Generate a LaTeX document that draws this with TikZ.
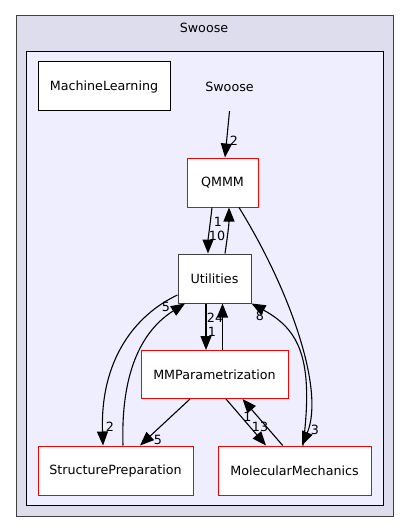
\documentclass[tikz,border=0pt]{standalone}
\usepackage{fontspec}
\setmainfont{DejaVu Sans}
\usetikzlibrary{arrows.meta}
\definecolor{outerfill}{HTML}{DDDDEE}
\definecolor{innerfill}{HTML}{EEEEFF}
\definecolor{outerline}{HTML}{404040}
\definecolor{redline}{HTML}{FF0000}
\begin{document}
\begin{tikzpicture}[x=1pt,y=-1pt,
  every node/.style={font=\fontsize{12.7}{15}\selectfont, inner sep=0pt},
  dirbox/.style={draw=black, fill=white, line width=1pt, rectangle, minimum height=49pt},
  redbox/.style={dirbox, draw=redline},
  dep/.style={line width=1.1pt, -{Triangle[length=14pt,width=11pt]}},
  lbl/.style={font=\fontsize{12.7}{15}\selectfont, anchor=center}]
\useasboundingbox (0,0) rectangle (409,532);
\fill[white] (0,0) rectangle (409,532);
% clusters
\draw[fill=outerfill, draw=outerline, line width=1pt] (16,16) rectangle (393,516);
\node (outerlbl) at (204,28) {Swoose};
\draw[fill=innerfill, draw=black, line width=1pt] (26,52) rectangle (383,505);
% nodes
\node[dirbox, minimum width=132pt] (ml) at (104,86.5) {MachineLearning};
\node[minimum width=54pt, minimum height=49pt] (swoose) at (229.5,86.5) {Swoose};
\node[redbox, minimum width=71pt] (qmmm) at (222.5,182.5) {QMMM};
\node[dirbox, draw=outerline, minimum width=73pt] (util) at (214.5,278.5) {Utilities};
\node[redbox, minimum width=147pt, minimum height=48pt] (mmp) at (214.5,374.5) {MMParametrization};
\node[redbox, minimum width=155pt] (sp) at (115.5,470.5) {StructurePreparation};
\node[redbox, minimum width=153pt] (mm) at (294.5,470.5) {MolecularMechanics};
% edges
\draw[dep] (swoose.south) -- ([xshift=2.5pt]qmmm.north);
\node[lbl] (l1) at (234,141) {2};

\draw[dep] ([xshift=-10.5pt]qmmm.south) .. controls (210,225) and (208,240) .. ([xshift=-6.5pt]util.north);
\node[lbl] (l2) at (217,236) {10};
\draw[dep] ([xshift=10.5pt]util.north) .. controls (227,240) and (229,225) .. ([xshift=6.5pt]qmmm.south);
\node[lbl] (l3) at (218,222) {1};

\draw[dep] ([xshift=-8.5pt]util.south) -- ([xshift=-8.5pt]mmp.north);
\node[lbl] (l4) at (215,318) {24};
\node[lbl] (l5) at (212,332) {1};
\draw[dep] ([xshift=8pt]mmp.north) -- ([xshift=8pt]util.south);

\draw[dep] ([yshift=-16.5pt]util.west) .. controls (135,315) and (100,360) .. ([xshift=-12.5pt]sp.north);
\node[lbl] (l6) at (110,427) {2};
\draw[dep] ([xshift=7.5pt]sp.north) .. controls (121,385) and (135,335) .. ([xshift=-29.5pt]util.south);
\node[lbl] (l7) at (166,307) {5};

\draw[dep] ([xshift=-24.5pt]mmp.south) -- ([xshift=24.5pt]sp.north);
\node[lbl] (l8) at (158,440) {5};

\draw[dep] ([xshift=11.5pt]mmp.south) -- ([xshift=-28.5pt]mm.north);
\node[lbl] (l9) at (260,427) {13};
\draw[dep] ([xshift=-11.8pt]mm.north) -- ([xshift=28pt]mmp.south);
\node[lbl] (l10) at (247.5,417) {1};

\draw[dep] ([xshift=16.5pt]qmmm.south) .. controls (290,290) and (325,390) .. ([xshift=7.5pt]mm.north);
\node[lbl] (l11) at (315,430) {3};
\draw[dep] ([xshift=8.5pt]mm.north) .. controls (314,360) and (300,330) .. (util.south east);
\node[lbl] (l12) at (260,316) {8};
\end{tikzpicture}
\end{document}
